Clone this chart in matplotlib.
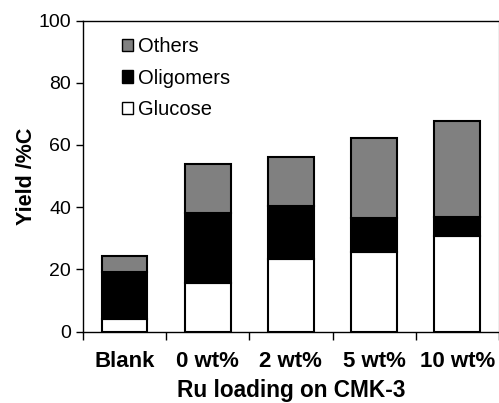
import numpy as np
import matplotlib
matplotlib.use("Agg")
from matplotlib import pyplot as plt
from matplotlib.patches import Patch

categories = ["Blank", "0 wt%", "2 wt%", "5 wt%", "10 wt%"]
glucose = [4.2, 15.7, 23.5, 25.6, 30.9]
oligomers = [15.0, 22.5, 16.9, 11.0, 5.8]
others = [5.1, 15.7, 15.6, 25.5, 30.9]

plt.rcParams['font.family'] = ['Liberation Sans', 'DejaVu Sans']

fig = plt.figure(figsize=(4.99, 4.03), dpi=100)
ax = fig.add_axes([0.166, 0.177, 0.834, 0.772])

x = np.arange(len(categories))
w = 0.55
g = np.array(glucose)
o = np.array(oligomers)
ax.bar(x, g, w, color='white', edgecolor='black', linewidth=1.5)
ax.bar(x, o, w, bottom=g, color='black', edgecolor='black', linewidth=1.5)
ax.bar(x, others, w, bottom=g + o, color='#808080', edgecolor='black', linewidth=1.5)

ax.set_xlim(-0.5, len(categories) - 0.5)
ax.set_ylim(0, 100)
ax.set_yticks([0, 20, 40, 60, 80, 100])
ax.tick_params(axis='y', labelsize=14, direction='out', length=5, width=1)
ax.set_xticks(x)
ax.set_xticklabels(categories, fontsize=16, fontweight='bold')
ax.tick_params(axis='x', which='major', length=0, pad=14)
ax.set_xticks(np.arange(len(categories) + 1) - 0.5, minor=True)
ax.tick_params(axis='x', which='minor', direction='out', length=6, width=1)

ax.set_xlabel("Ru loading on CMK-3", fontsize=16.3, fontweight='bold', labelpad=5)
ax.set_ylabel("Yield /%C", fontsize=15.5, fontweight='bold', labelpad=1)

for s in ax.spines.values():
    s.set_linewidth(1)
ax.spines['right'].set_color('#aaaaaa')

handles = [Patch(facecolor='#808080', edgecolor='black', label='Others'),
           Patch(facecolor='black', edgecolor='black', label='Oligomers'),
           Patch(facecolor='white', edgecolor='black', label='Glucose')]
ax.legend(handles=handles, loc='upper left', frameon=False, fontsize=14.5,
          handlelength=0.55, handleheight=0.55, handletextpad=0.25,
          labelspacing=0.62, bbox_to_anchor=(0.05, 1.005))

fig.savefig("out.png", dpi=100)
